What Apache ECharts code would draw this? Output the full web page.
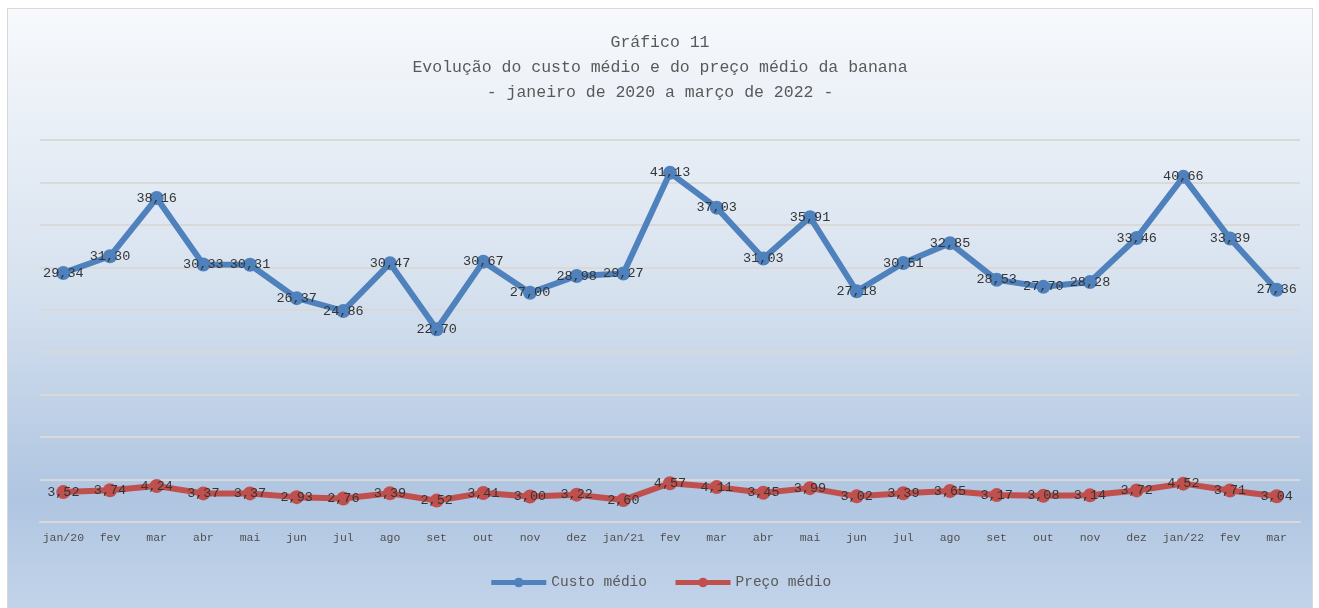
<!DOCTYPE html>
<html>
<head>
<meta charset="utf-8">
<script src="https://cdn.jsdelivr.net/npm/echarts@6/dist/echarts.min.js"></script>
<style>
  html, body { margin: 0; padding: 0; background: #ffffff; overflow: hidden; }
  #chart {
    position: absolute;
    left: 7px; top: 8px;
    width: 1304px; height: 610px;
    border: 1px solid #d9d9d9;
  }
</style>
</head>
<body>
<div id="chart"></div>
<script>
// Months, jan/2020 to mar/2022
const months = ['jan/20', 'fev', 'mar', 'abr', 'mai', 'jun', 'jul', 'ago', 'set', 'out', 'nov', 'dez',
    'jan/21', 'fev', 'mar', 'abr', 'mai', 'jun', 'jul', 'ago', 'set', 'out', 'nov', 'dez',
    'jan/22', 'fev', 'mar'];

const custoMedio = [29.34, 31.30, 38.16, 30.33, 30.31, 26.37, 24.86, 30.47, 22.70, 30.67, 27.00, 28.98,
    29.27, 41.13, 37.03, 31.03, 35.91, 27.18, 30.51, 32.85, 28.53, 27.70, 28.28, 33.46,
    40.66, 33.39, 27.36];

const precoMedio = [3.52, 3.74, 4.24, 3.37, 3.37, 2.93, 2.76, 3.39, 2.52, 3.41, 3.00, 3.22,
    2.60, 4.57, 4.11, 3.45, 3.99, 3.02, 3.39, 3.65, 3.17, 3.08, 3.14, 3.72,
    4.52, 3.71, 3.04];

const FONT = '"Liberation Mono", "DejaVu Sans Mono", monospace';

function fmt(p) {
    return p.value.toFixed(2).replace('.', ',');
}

function lineSeries(name, data, color) {
    return {
        name: name,
        type: 'line',
        data: data,
        symbol: 'circle',
        symbolSize: 14,
        color: color,
        lineStyle: { width: 6, color: color },
        itemStyle: { color: color },
        label: {
            show: true,
            position: 'inside',
            formatter: fmt,
            fontFamily: FONT,
            fontSize: 13.5,
            color: '#353535'
        }
    };
}

const chart = echarts.init(document.getElementById('chart'));

chart.setOption({
    backgroundColor: {
        type: 'linear', x: 0, y: 0, x2: 0, y2: 1,
        colorStops: [
            { offset: 0, color: '#f7f9fc' },
            { offset: 0.45, color: '#d7e2ef' },
            { offset: 0.8, color: '#afc5e1' },
            { offset: 1, color: '#c4d5ea' }
        ]
    },
    textStyle: { fontFamily: FONT },
    title: {
        text: 'Gráfico 11\nEvolução do custo médio e do preço médio da banana\n- janeiro de 2020 a março de 2022 -',
        left: 'center',
        top: 16,
        textStyle: {
            fontFamily: FONT,
            fontSize: 16.5,
            fontWeight: 'normal',
            color: '#595959',
            lineHeight: 25
        }
    },
    legend: {
        bottom: 24,
        left: 'center',
        itemWidth: 55,
        itemHeight: 12,
        itemGap: 26,
        lineStyle: { width: 5 },
        textStyle: { fontFamily: FONT, fontSize: 14.5, color: '#595959' },
        data: ['Custo médio', 'Preço médio']
    },
    grid: {
        left: 32,
        right: 12,
        top: 131,
        bottom: 97
    },
    xAxis: {
        type: 'category',
        data: months,
        axisLine: { lineStyle: { color: '#d9d9d9', width: 2 } },
        axisTick: { show: false },
        axisLabel: {
            interval: 0,
            fontFamily: FONT,
            fontSize: 11.5,
            color: '#505050',
            margin: 10
        }
    },
    yAxis: {
        type: 'value',
        min: 0,
        max: 45,
        interval: 5,
        axisLabel: { show: false },
        axisLine: { show: false },
        axisTick: { show: false },
        splitLine: { lineStyle: { color: '#d9d9d9', width: 2 } }
    },
    series: [
        lineSeries('Custo médio', custoMedio, '#4f81bd'),
        lineSeries('Preço médio', precoMedio, '#c0504d')
    ]
});
</script>
</body>
</html>
